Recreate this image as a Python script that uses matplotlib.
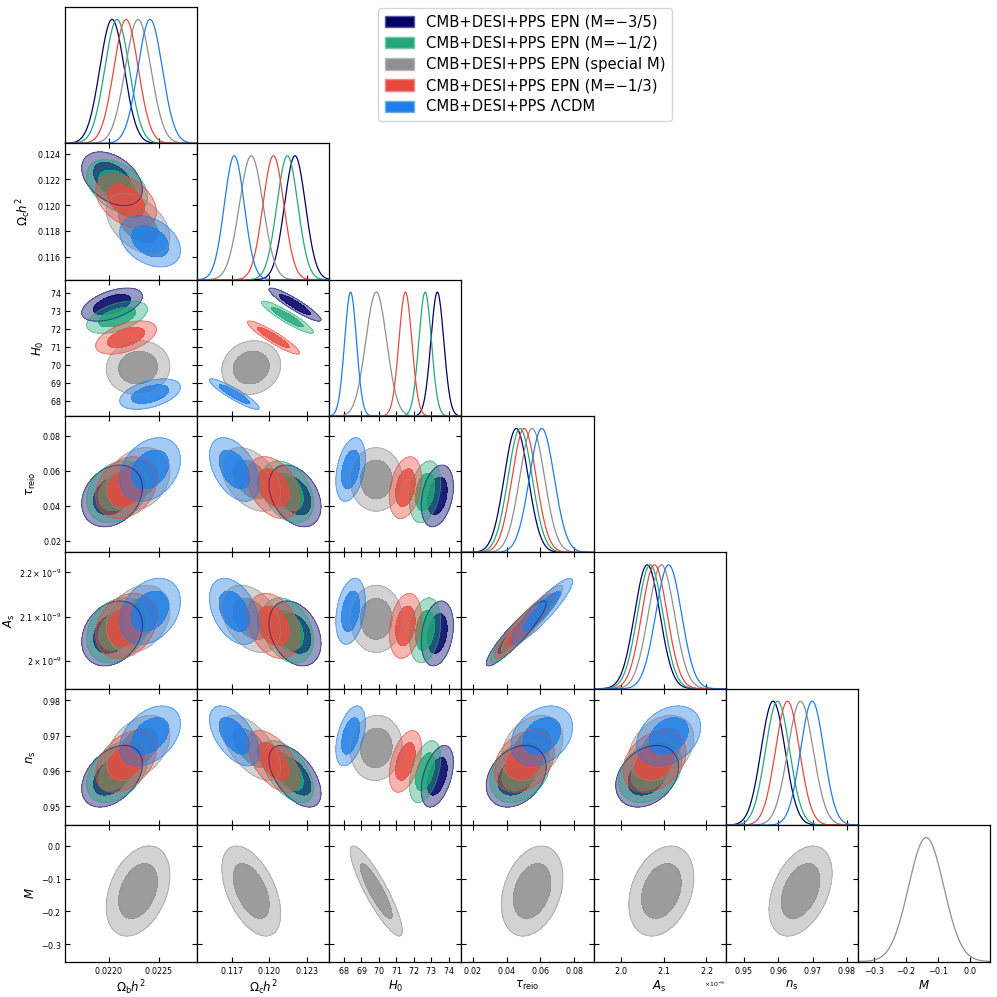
import numpy as np
import matplotlib
matplotlib.use("Agg")
import matplotlib.pyplot as plt
from matplotlib.patches import Patch
from matplotlib.ticker import FixedLocator, FuncFormatter, ScalarFormatter
from matplotlib.colors import to_rgba

# ---------------- data ----------------
labels = ["CMB+DESI+PPS EPN (M=\u22123/5)", "CMB+DESI+PPS EPN (M=\u22121/2)",
          "CMB+DESI+PPS EPN (special M)", "CMB+DESI+PPS EPN (M=\u22121/3)",
          "CMB+DESI+PPS \u039bCDM"]
colors = ["#000066", "#23a87a", "#8f8f8f", "#e8493d", "#1e7ee8"]

param_names = ["omega_b", "omega_c", "H0", "tau", "A_s", "n_s", "M"]
param_labels = [r"$\Omega_\mathrm{b}h^2$", r"$\Omega_\mathrm{c}h^2$", r"$H_0$",
                r"$\tau_\mathrm{reio}$", r"$A_\mathrm{s}$", r"$n_\mathrm{s}$", r"$M$"]

# means per dataset (navy, green, gray, red, blue)
mean_omega_b = [0.02203, 0.02208, 0.02229, 0.02217, 0.02241]
mean_omega_c = [0.12205, 0.12144, 0.11854, 0.12032, 0.11718]
mean_H0 = [73.35, 72.65, 69.85, 71.52, 68.38]
mean_tau = [0.0457, 0.0480, 0.0551, 0.0504, 0.0608]
mean_A_s = [2.062e-9, 2.069e-9, 2.095e-9, 2.079e-9, 2.112e-9]
mean_n_s = [0.9585, 0.9598, 0.9665, 0.9627, 0.9699]
mean_M = [None, None, -0.138, None, None]

# standard deviations per dataset
sig_omega_b = [0.000122, 0.000122, 0.000128, 0.000122, 0.000122]
sig_omega_c = [0.00084, 0.00084, 0.00095, 0.00084, 0.00080]
sig_H0 = [0.37, 0.36, 0.60, 0.37, 0.34]
sig_tau = [0.0071, 0.0071, 0.0073, 0.0071, 0.0073]
sig_A_s = [0.0295e-9, 0.0295e-9, 0.0305e-9, 0.0295e-9, 0.030e-9]
sig_n_s = [0.0035, 0.0035, 0.0037, 0.0035, 0.0034]
sig_M = [None, None, 0.055, None, None]

# pairwise correlations per dataset
rho_ob_oc = [-0.40, -0.40, -0.45, -0.40, -0.35]
rho_ob_H0 = [0.50, 0.50, 0.05, 0.50, 0.45]
rho_oc_H0 = [-0.92, -0.92, 0.10, -0.92, -0.91]
rho_ob_tau = [0.25, 0.25, 0.25, 0.25, 0.30]
rho_oc_tau = [-0.35, -0.35, -0.40, -0.35, -0.45]
rho_H0_tau = [0.30, 0.30, 0.00, 0.30, 0.35]
rho_ob_As = [0.25, 0.25, 0.25, 0.25, 0.30]
rho_oc_As = [-0.30, -0.30, -0.35, -0.30, -0.40]
rho_H0_As = [0.25, 0.25, 0.00, 0.25, 0.30]
rho_tau_As = [0.92, 0.92, 0.92, 0.92, 0.91]
rho_ob_ns = [0.40, 0.40, 0.40, 0.40, 0.40]
rho_oc_ns = [-0.55, -0.55, -0.60, -0.55, -0.55]
rho_H0_ns = [0.45, 0.45, 0.05, 0.45, 0.45]
rho_tau_ns = [0.30, 0.30, 0.30, 0.30, 0.30]
rho_As_ns = [0.30, 0.30, 0.30, 0.30, 0.30]
rho_ob_M = [None, None, 0.35, None, None]
rho_oc_M = [None, None, -0.50, None, None]
rho_H0_M = [None, None, -0.88, None, None]
rho_tau_M = [None, None, 0.30, None, None]
rho_As_M = [None, None, 0.30, None, None]
rho_ns_M = [None, None, 0.40, None, None]

# axis ranges and ticks
lim_omega_b = (0.02156, 0.02288)
lim_omega_c = (0.1142, 0.1248)
lim_H0 = (67.16, 74.73)
lim_tau = (0.0134, 0.0913)
lim_A_s = (1.937e-9, 2.245e-9)
lim_n_s = (0.9447, 0.9832)
lim_M = (-0.352, 0.062)

xticks_omega_b = [0.0220, 0.0225]
xticks_omega_c = [0.117, 0.120, 0.123]
yticks_omega_c = [0.116, 0.118, 0.120, 0.122, 0.124]
ticks_H0 = [68, 69, 70, 71, 72, 73, 74]
ticks_tau = [0.02, 0.04, 0.06, 0.08]
ticks_A_s = [2.0e-9, 2.1e-9, 2.2e-9]
ticks_n_s = [0.95, 0.96, 0.97, 0.98]
ticks_M = [-0.3, -0.2, -0.1, 0.0]

# ---------------- assemble lookups ----------------
means = [mean_omega_b, mean_omega_c, mean_H0, mean_tau, mean_A_s, mean_n_s, mean_M]
sigs = [sig_omega_b, sig_omega_c, sig_H0, sig_tau, sig_A_s, sig_n_s, sig_M]
lims = [lim_omega_b, lim_omega_c, lim_H0, lim_tau, lim_A_s, lim_n_s, lim_M]
xticks = [xticks_omega_b, xticks_omega_c, ticks_H0, ticks_tau, ticks_A_s, ticks_n_s, ticks_M]
yticks = [None, yticks_omega_c, ticks_H0, ticks_tau, ticks_A_s, ticks_n_s, ticks_M]
rho = {
    (0, 1): rho_ob_oc, (0, 2): rho_ob_H0, (1, 2): rho_oc_H0,
    (0, 3): rho_ob_tau, (1, 3): rho_oc_tau, (2, 3): rho_H0_tau,
    (0, 4): rho_ob_As, (1, 4): rho_oc_As, (2, 4): rho_H0_As, (3, 4): rho_tau_As,
    (0, 5): rho_ob_ns, (1, 5): rho_oc_ns, (2, 5): rho_H0_ns, (3, 5): rho_tau_ns, (4, 5): rho_As_ns,
    (0, 6): rho_ob_M, (1, 6): rho_oc_M, (2, 6): rho_H0_M, (3, 6): rho_tau_M, (4, 6): rho_As_M, (5, 6): rho_ns_M,
}

# ---------------- figure ----------------
plt.rcParams["font.family"] = ["DejaVu Sans"]
plt.rcParams["axes.formatter.use_mathtext"] = True
fig = plt.figure(figsize=(9.97, 9.97), dpi=100)
n = 7
L, R = 65 / 997, 990 / 997
B, T = 1 - 961.5 / 997, 1 - 7 / 997
w = (R - L) / n
h = (T - B) / n

TICK_FS = 5.8
LABEL_FS = 8.5
A_IN, A_OUT = 0.88, 0.40
chi2_68, chi2_95 = 2.296, 6.180


def as_fmt(v, pos):
    return r"$%g\times10^{-9}$" % (round(v * 1e9, 3))


def style(ax, row, col, diag=False):
    ax.set_xlim(*lims[col])
    ax.xaxis.set_major_locator(FixedLocator(xticks[col]))
    sf = ScalarFormatter(useMathText=True)
    sf.set_useOffset(False)
    ax.xaxis.set_major_formatter(sf)
    if diag:
        ax.set_yticks([])
        ax.tick_params(axis="x", direction="in", top=False, length=3.5, width=0.8,
                       labelsize=TICK_FS, pad=2.5)
    else:
        ax.set_ylim(*lims[row])
        ax.yaxis.set_major_locator(FixedLocator(yticks[row]))
        if row == 4:
            ax.yaxis.set_major_formatter(FuncFormatter(as_fmt))
        else:
            sfy = ScalarFormatter(useMathText=True)
            sfy.set_useOffset(False)
            ax.yaxis.set_major_formatter(sfy)
        ax.tick_params(direction="in", top=True, right=True, length=3.5, width=0.8,
                       labelsize=TICK_FS, pad=2.5)
    ax.tick_params(labelbottom=(row == n - 1), labelleft=(col == 0 and not diag))
    if row == n - 1:
        ax.set_xlabel(param_labels[col], fontsize=LABEL_FS, labelpad=2.0)
        ax.xaxis.get_offset_text().set_fontsize(4.5)
    if col == 0 and not diag:
        ax.set_ylabel(param_labels[row], fontsize=LABEL_FS,
                      labelpad=(1.0 if row == 4 else 3.0))
    for s in ax.spines.values():
        s.set_linewidth(0.9)


for row in range(n):
    for col in range(row + 1):
        ax = fig.add_axes([L + col * w, T - (row + 1) * h, w, h])
        if row == col:
            xs = np.linspace(*lims[col], 400)
            for k in range(len(labels)):
                m, s = means[col][k], sigs[col][k]
                if m is None:
                    continue
                ax.plot(xs, np.exp(-0.5 * ((xs - m) / s) ** 2), color=colors[k], lw=0.9)
            ax.set_ylim(0, 1.10)
            style(ax, row, col, diag=True)
        else:
            xs = np.linspace(*lims[col], 300)
            ys = np.linspace(*lims[row], 300)
            X, Y = np.meshgrid(xs, ys)
            r_list = rho[(col, row)]
            for k in range(len(labels)):
                mx, my = means[col][k], means[row][k]
                if mx is None or my is None:
                    continue
                sx, sy, r = sigs[col][k], sigs[row][k], r_list[k]
                dx, dy = (X - mx) / sx, (Y - my) / sy
                Q = (dx ** 2 - 2 * r * dx * dy + dy ** 2) / (1 - r ** 2)
                c = colors[k]
                ax.contourf(X, Y, Q, levels=[0, chi2_68, chi2_95],
                            colors=[to_rgba(c, A_IN), to_rgba(c, A_OUT)])
                ax.contour(X, Y, Q, levels=[chi2_95], colors=[to_rgba(c, 0.55)],
                           linewidths=0.7)
            style(ax, row, col)


def lighter(c, f=0.35):
    r, g, b, _ = to_rgba(c)
    return (r + (1 - r) * f, g + (1 - g) * f, b + (1 - b) * f, 1)


handles = [Patch(facecolor=c, edgecolor=lighter(c), lw=1.0) for c in colors]
fig.legend(handles, labels, loc="upper left", bbox_to_anchor=(378 / 997, 1 - 8 / 997),
           borderaxespad=0.0, fontsize=10.6, frameon=True, handlelength=2.0,
           handleheight=0.8, labelspacing=0.42, borderpad=0.45)

fig.savefig("out.png", dpi=100)
